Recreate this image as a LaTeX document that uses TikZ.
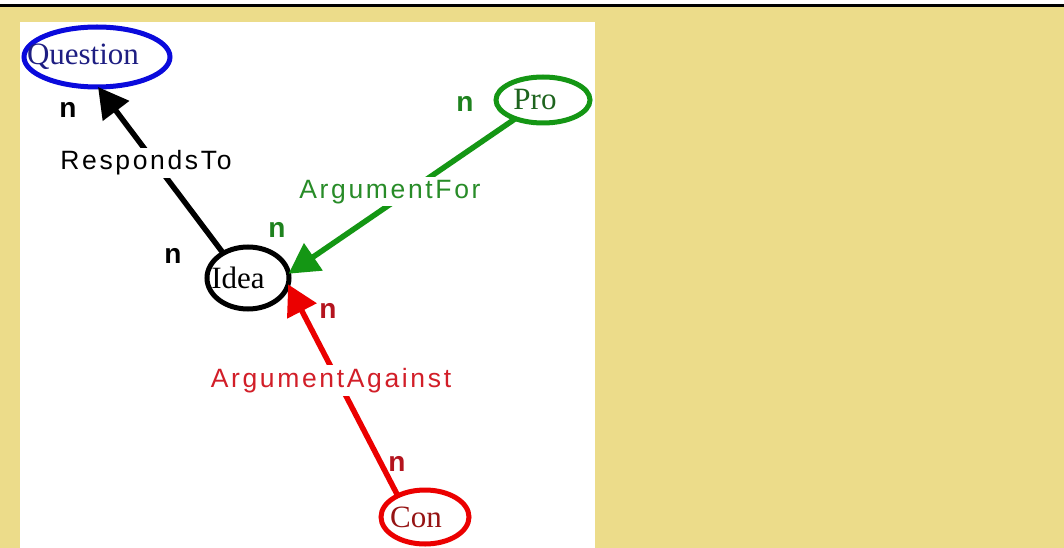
\documentclass[tikz,border=0pt]{standalone}
\usepackage{fontspec}
\setmainfont{Liberation Serif}
\newfontfamily\lblfont[LetterSpace=10]{Liberation Sans}
\newfontfamily\nfont{Liberation Sans}
\usetikzlibrary{arrows.meta,shapes.geometric}
\definecolor{khaki}{RGB}{236,220,138}
\definecolor{qblue}{RGB}{10,10,220}
\definecolor{qtext}{RGB}{30,30,130}
\definecolor{pgreen}{RGB}{20,150,20}
\definecolor{ptext}{RGB}{30,100,30}
\definecolor{cred}{RGB}{235,0,0}
\definecolor{ctext}{RGB}{150,20,20}
\definecolor{agreen}{RGB}{40,140,40}
\definecolor{ngreen}{RGB}{30,130,30}
\definecolor{ared}{RGB}{210,30,40}
\definecolor{nred}{RGB}{180,20,30}
\tikzset{
  ell/.style={ellipse, line width=5pt, inner sep=0pt, outer sep=0pt, fill=white,
    font=\fontsize{31}{31}\selectfont},
  edge/.style={line width=5.5pt, -{Triangle[length=30pt,width=32pt]}},
  lbl/.style={fill=white, inner sep=3pt, anchor=base, font=\lblfont\fontsize{26.5}{26.5}\selectfont},
  nlab/.style={inner sep=0pt, anchor=base, font=\nfont\bfseries\fontsize{28}{28}\selectfont}
}
\begin{document}
\begin{tikzpicture}[x=1pt,y=-1pt]
\useasboundingbox (0,0) rectangle (1064,548);
\fill[white] (0,0) rectangle (1064,548);
\fill[khaki] (0,6) rectangle (1064,548);
\draw[line width=2.5pt] (0,5.5) -- (1064,5.5);
\fill[white] (20,22) rectangle (595,548);

\node[ell, draw=qblue, text=qtext, minimum width=146pt, minimum height=60pt] (question) at (97,57) {\kern-28pt Question};
\node[ell, draw=black, text=black, minimum width=82pt, minimum height=62pt] (idea) at (248,278) {\kern-20pt Idea};
\node[ell, draw=pgreen, text=ptext, minimum width=94pt, minimum height=46pt] (pro) at (543,100) {\kern-16pt Pro};
\node[ell, draw=cred, text=ctext, minimum width=88pt, minimum height=54pt] (con) at (425,517) {\kern-18pt Con};

\draw[edge, black] (idea.135) -- (question.-88);
\draw[edge, pgreen] (pro.214) -- (idea.6);
\draw[edge, cred] (con.142) -- (idea.-9);

\node[lbl, text=black] (rt) at (146,170) {RespondsTo};
\node[lbl, text=agreen] (af) at (390,198) {ArgumentFor};
\node[lbl, text=ared] (aa) at (331,387) {ArgumentAgainst};

\node[nlab, text=black] (n1) at (68,118) {n};
\node[nlab, text=black] (n2) at (173,263) {n};
\node[nlab, text=ngreen] (n3) at (277,237) {n};
\node[nlab, text=ngreen] (n4) at (465,112) {n};
\node[nlab, text=nred] (n5) at (328,318) {n};
\node[nlab, text=nred] (n6) at (397,471) {n};
\end{tikzpicture}
\end{document}
